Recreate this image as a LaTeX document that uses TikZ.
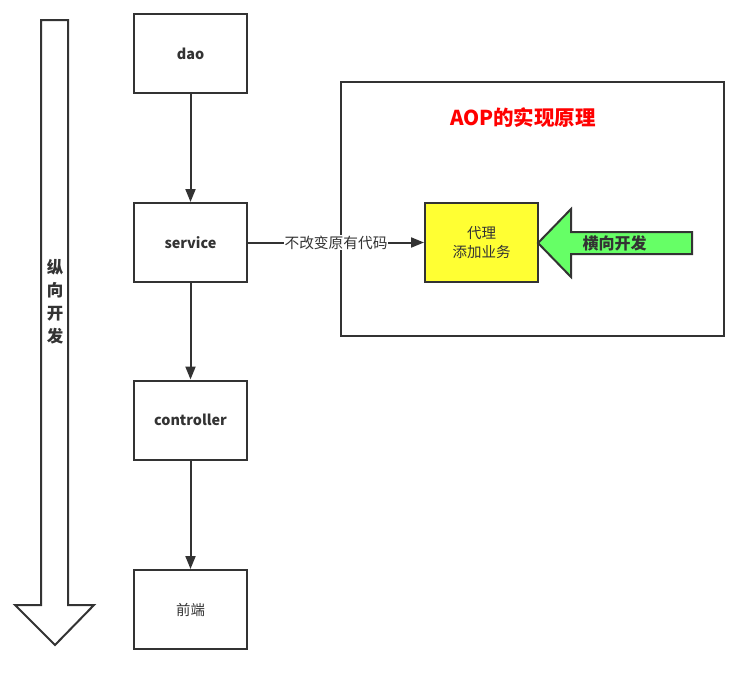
\documentclass[tikz,border=0pt]{standalone}
\usepackage{fontspec}
\setmainfont{Noto Sans CJK SC}
\usetikzlibrary{arrows.meta}
\definecolor{ln}{HTML}{333333}
\definecolor{yel}{HTML}{FFFF33}
\definecolor{grn}{HTML}{66FF66}
\tikzset{
  box/.style={draw=ln, line width=2pt, minimum width=113pt, minimum height=79pt, inner sep=0pt, text=ln, font=\fontsize{14.4}{16}\selectfont\bfseries},
  conn/.style={draw=ln, line width=2pt, -{Triangle[length=13pt,width=10pt]}},
}
\begin{document}
\begin{tikzpicture}[x=1pt,y=-1pt]
\useasboundingbox (0,0) rectangle (749,681);
% vertical big arrow
\draw[ln, line width=2pt, line join=miter] (41,20) -- (68,20) -- (68,605) -- (94,605) -- (55,645) -- (15,605) -- (41,605) -- cycle;
\node[text=ln, font=\fontsize{16.5}{23}\selectfont\bfseries, align=center, inner sep=0pt] (vlabel) at (55,302) {纵\\向\\开\\发};
% boxes
\node[box] (dao) at (190.5,53.5) {dao};
\node[box] (service) at (190.5,242.5) {service};
\node[box] (controller) at (190.5,420) {controller};
\node[box, font=\fontsize{14.4}{16}\selectfont] (front) at (190.5,609.5) {前端};
% AOP frame
\node[draw=ln, line width=2pt, minimum width=383pt, minimum height=254pt, inner sep=0pt] (aop) at (532.5,209) {};
\node[text=red, font=\fontsize{20.5}{24}\selectfont\bfseries, inner sep=0pt] (title) at (523,118) {AOP的实现原理};
% proxy
\node[box, fill=yel, font=\fontsize{14.5}{19}\selectfont, align=center] (proxy) at (481.5,242.5) {代理\\添加业务};
% green arrow
\draw[ln, fill=grn, line width=2pt, line join=miter] (538,243) -- (571,209) -- (571,232) -- (692,232) -- (692,254) -- (571,254) -- (571,277) -- cycle;
\node[text=ln, font=\fontsize{16}{18}\selectfont\bfseries, inner sep=0pt] (hlabel) at (614.5,243) {横向开发};
% connectors
\draw[conn] (dao) -- (service);
\draw[conn] (service) -- (controller);
\draw[conn] (controller) -- (front);
\draw[conn] (service) -- node[fill=white, text=ln, font=\fontsize{14.7}{16}\selectfont, inner sep=1pt] (lbl) {不改变原有代码} (proxy);
\end{tikzpicture}
\end{document}
